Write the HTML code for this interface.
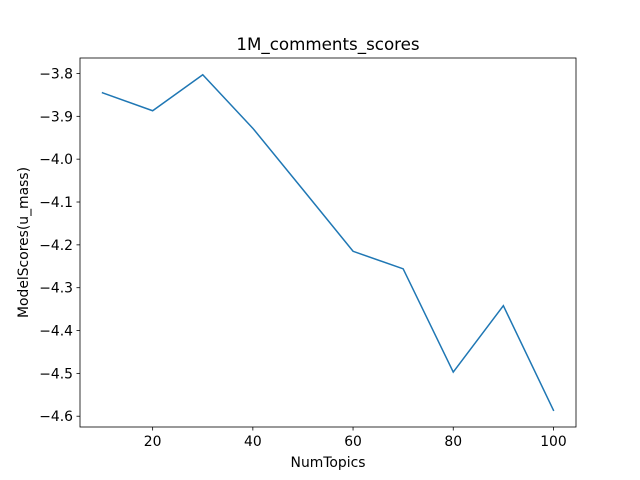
<!DOCTYPE html>
<html><head><meta charset="utf-8"><style>
body{margin:0;background:#fff;}
svg{display:block;font-family:"DejaVu Sans","Liberation Sans",sans-serif;}
</style></head><body>
<svg id="c" width="640" height="480"></svg>
<script>
const categories=[10,20,30,40,50,60,70,80,90,100];
const scores=[-3.845,-3.887,-3.803,-3.928,-4.071,-4.215,-4.256,-4.497,-4.342,-4.586];
const xTicks=[20,40,60,80,100];
const yTicks=[-3.8,-3.9,-4.0,-4.1,-4.2,-4.3,-4.4,-4.5,-4.6];
const NS="http://www.w3.org/2000/svg";
const svg=document.getElementById('c');
const L=80,R=576,T=58,B=427;
const xmn=Math.min(...categories),xmx=Math.max(...categories);
const ymn=Math.min(...scores),ymx=Math.max(...scores);
const xm=(xmx-xmn)*0.05,ym=(ymx-ymn)*0.05;
const x0=xmn-xm,x1=xmx+xm,y0=ymn-ym,y1=ymx+ym;
const sx=v=>L+(v-x0)/(x1-x0)*(R-L);
const sy=v=>B-(v-y0)/(y1-y0)*(B-T);
function el(t,a,txt){const e=document.createElementNS(NS,t);for(const k in a)e.setAttribute(k,a[k]);if(txt!==undefined)e.textContent=txt;svg.appendChild(e);return e;}
let d=categories.map((c,i)=>(i?'L':'M')+sx(c).toFixed(2)+','+sy(scores[i]).toFixed(2)).join(' ');
const line=el('path',{d:d,fill:'none',stroke:'#1f77b4','stroke-width':1.5,'stroke-linecap':'square'});


const frame=el('rect',{x:L,y:T,width:R-L,height:B-T,fill:'none',stroke:'#000','stroke-width':0.8});


xTicks.forEach(v=>{const x=sx(v);
el('line',{x1:x,x2:x,y1:B,y2:B+3.5,stroke:'#000','stroke-width':0.8});
const t=el('text',{x:x,y:B+19,'text-anchor':'middle','font-size':13.9,fill:'#000'},String(v));

});
yTicks.forEach(v=>{const y=sy(v);
el('line',{x1:L-3.5,x2:L,y1:y,y2:y,stroke:'#000','stroke-width':0.8});
const t=el('text',{x:L-7,y:y+5,'text-anchor':'end','font-size':13.9,fill:'#000'},'\u2212'+Math.abs(v).toFixed(1));

});
const ti=el('text',{x:(L+R)/2,y:50,'text-anchor':'middle','font-size':16.7,fill:'#000'},'1M_comments_scores');


const xl=el('text',{x:(L+R)/2,y:467,'text-anchor':'middle','font-size':13.9,fill:'#000'},'NumTopics');


const yl=el('text',{x:28,y:(T+B)/2,'text-anchor':'middle','font-size':13.9,fill:'#000',transform:'rotate(-90 28 '+(T+B)/2+')'},'ModelScores(u_mass)');


</script>
</body></html>
